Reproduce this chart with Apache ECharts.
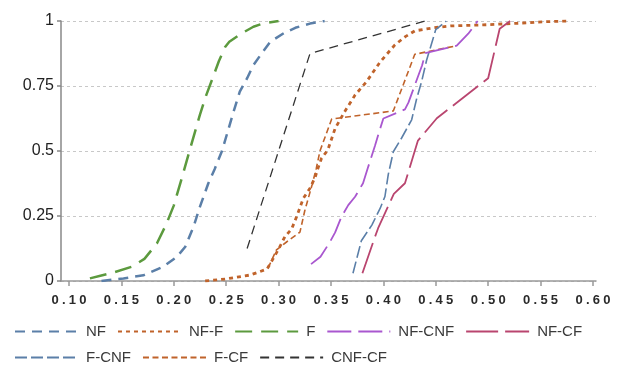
<!DOCTYPE html>
<html>
<head>
<meta charset="utf-8">
<script src="https://cdn.jsdelivr.net/npm/echarts@6/dist/echarts.min.js"></script>
<style>
  html, body { margin: 0; padding: 0; background: #fff; }
  #chart { width: 619px; height: 369px; }
</style>
</head>
<body>
<div id="chart"></div>
<script>
// tick values
const xTicks = [0.1, 0.15, 0.2, 0.25, 0.3, 0.35, 0.4, 0.45, 0.5, 0.55, 0.6]
const yTicks = [0, 0.25, 0.5, 0.75, 1]

// cdf curves, [x, y] pairs
const nf = [[0.131, 0], [0.152, 0.01], [0.171, 0.022], [0.19, 0.055], [0.203, 0.093], [0.211, 0.132], [0.219, 0.21], [0.225, 0.286], [0.233, 0.376], [0.239, 0.43], [0.246, 0.5], [0.257, 0.65], [0.263, 0.728], [0.27, 0.78], [0.276, 0.83], [0.284, 0.876], [0.292, 0.92], [0.305, 0.953], [0.316, 0.974], [0.33, 0.99], [0.344, 1]]
const nfF = [[0.23, 0], [0.25, 0.008], [0.273, 0.023], [0.289, 0.046], [0.295, 0.087], [0.301, 0.13], [0.306, 0.17], [0.3125, 0.2], [0.317, 0.245], [0.3236, 0.318], [0.33, 0.357], [0.335, 0.4], [0.337, 0.427], [0.341, 0.472], [0.347, 0.504], [0.354, 0.587], [0.363, 0.651], [0.373, 0.715], [0.384, 0.767], [0.397, 0.843], [0.411, 0.908], [0.421, 0.94], [0.43, 0.962], [0.448, 0.974], [0.464, 0.981], [0.495, 0.985], [0.527, 0.991], [0.553, 0.997], [0.575, 1]]
const f = [[0.12, 0.01], [0.13, 0.02], [0.142, 0.032], [0.16, 0.055], [0.172, 0.085], [0.184, 0.145], [0.193, 0.22], [0.2, 0.29], [0.208, 0.4], [0.215, 0.5], [0.225, 0.64], [0.231, 0.715], [0.238, 0.79], [0.243, 0.845], [0.249, 0.9], [0.253, 0.92], [0.265, 0.953], [0.276, 0.978], [0.285, 0.99], [0.3, 1]]
const nfCnf = [[0.331, 0.065], [0.34, 0.093], [0.349, 0.15], [0.354, 0.187], [0.36, 0.247], [0.3665, 0.292], [0.373, 0.324], [0.3806, 0.376], [0.3856, 0.44], [0.392, 0.52], [0.397, 0.587], [0.4, 0.625], [0.4206, 0.66], [0.424, 0.687], [0.437, 0.83], [0.44, 0.876], [0.47, 0.905], [0.481, 0.951], [0.49, 1]]
const nfCf = [[0.38, 0.03], [0.392, 0.17], [0.395, 0.203], [0.41, 0.335], [0.4206, 0.376], [0.433, 0.54], [0.451, 0.626], [0.5, 0.78], [0.511, 0.97], [0.521, 1]]
const fCnf = [[0.371, 0.03], [0.379, 0.155], [0.389, 0.215], [0.397, 0.28], [0.4015, 0.325], [0.4047, 0.41], [0.4095, 0.497], [0.4174, 0.55], [0.427, 0.62], [0.4317, 0.7], [0.4365, 0.767], [0.4413, 0.85], [0.45, 0.967], [0.46, 1]]
const fCf = [[0.29, 0.05], [0.298, 0.12], [0.3076, 0.15], [0.3204, 0.188], [0.325, 0.27], [0.332, 0.37], [0.336, 0.433], [0.3395, 0.5], [0.3507, 0.623], [0.4095, 0.654], [0.43, 0.872], [0.47, 0.905]]
const cnfCf = [[0.27, 0.125], [0.33, 0.875], [0.44, 1]]

const names = ['NF', 'NF-F', 'F', 'NF-CNF', 'NF-CF', 'F-CNF', 'F-CF', 'CNF-CF']

const chart = echarts.init(document.getElementById('chart'), null, { renderer: 'canvas' })

function line(name, data, color, width, dash, z) {
  return {
    name,
    data,
    type: 'line',
    symbol: 'none',
    z: z || 2,
    lineStyle: { color, width, type: dash },
    itemStyle: { color }
  }
}

const font = '"Liberation Sans", Arial, sans-serif'

const legendBase = {
  left: 9,
  itemWidth: 63,
  itemHeight: 14,
  itemGap: 11,
  itemStyle: { opacity: 0 },
  textStyle: { fontSize: 15, color: '#3a3a3a', fontFamily: font, padding: [0, 0, 0, 3] }
}

const option = {
  animation: false,
  grid: { left: 61, right: 23, top: 21, bottom: 88, containLabel: false },
  legend: [
    Object.assign({}, legendBase, { top: 319, data: names.slice(0, 5) }),
    Object.assign({}, legendBase, { top: 345, data: names.slice(5) })
  ],
  xAxis: {
    type: 'value',
    min: 0.0924,
    max: 0.6029,
    offset: 6,
    axisLine: { show: true, lineStyle: { color: '#999', width: 1.5 } },
    axisTick: { show: true, customValues: xTicks, length: 5, lineStyle: { color: '#999', width: 1.5 } },
    axisLabel: {
      customValues: xTicks,
      margin: 7,
      fontSize: 13,
      fontWeight: 'bold',
      color: '#2a2a2a',
      fontFamily: font,
      formatter: v => v.toFixed(2).split('').join('\u2005')
    },
    splitLine: { show: false }
  },
  yAxis: {
    type: 'value',
    min: yTicks[0],
    max: yTicks[yTicks.length - 1],
    interval: 0.25,
    axisLine: { show: true, lineStyle: { color: '#888', width: 1.5 } },
    axisTick: { show: true, length: 4, lineStyle: { color: '#888', width: 1.5 } },
    axisLabel: { fontSize: 16, color: '#222', fontFamily: font, margin: 7 },
    splitLine: { show: true, lineStyle: { color: '#c8c8c8', type: [3, 3], width: 1 } }
  },
  series: [
    line('NF', nf, '#5b7fa8', 2.5, [10, 7]),
    line('NF-F', nfF, '#c0632b', 2.8, [4, 4]),
    line('F', f, '#5c9a3e', 2.5, [17, 9]),
    line('NF-CNF', nfCnf, '#a957cf', 1.8, [24, 7], 3),
    line('NF-CF', nfCf, '#b9456f', 1.8, [32, 7]),
    line('F-CNF', fCnf, '#5b7fa8', 1.6, [12, 4]),
    line('F-CF', fCf, '#c0632b', 1.6, [6, 3.5]),
    line('CNF-CF', cnfCf, '#333333', 1.3, [9, 6])
  ]
}

chart.setOption(option)
</script>
</body>
</html>
